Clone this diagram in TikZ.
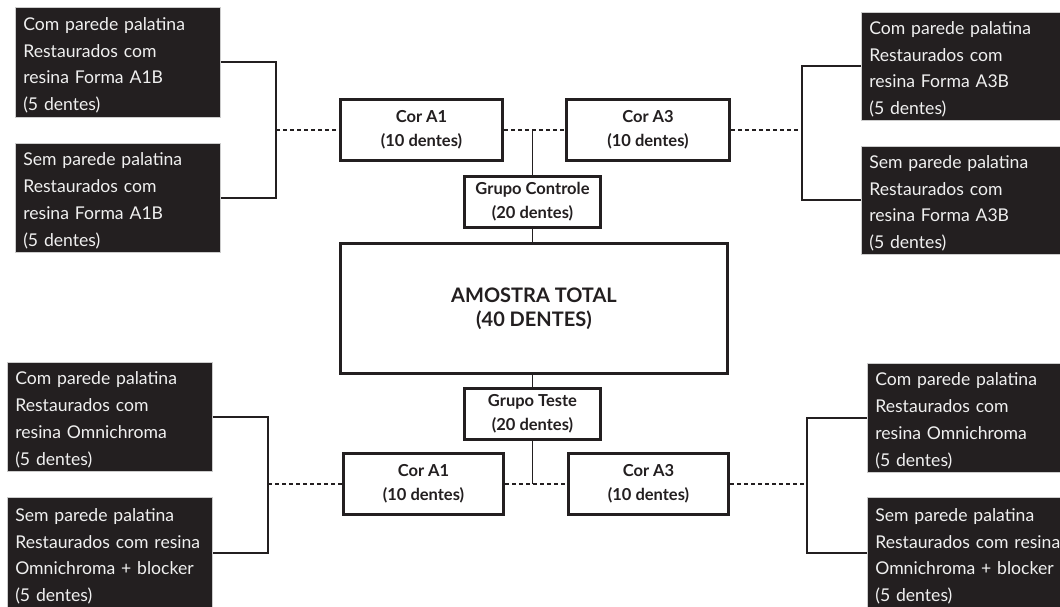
\documentclass[tikz,border=0pt]{standalone}
\usepackage{fontspec}
\setmainfont{Lato}
\definecolor{dk}{HTML}{231F20}
\newcommand{\lowtxt}{\par\vspace{-6pt}}
\begin{document}
\begin{tikzpicture}[x=1pt,y=-1pt,
  dark/.style={fill=dk, text=white!94!black, draw=gray!40, line width=0.6pt, anchor=north west,
    align=left, text width=189pt, inner xsep=8pt, inner ysep=0pt,
    font=\fontsize{17.6}{26.7}\selectfont},
  cbox/.style={draw=dk, line width=3pt, align=center, inner sep=0pt,
    font=\bfseries\fontsize{16.5}{24}\selectfont, text=dk},
  link/.style={draw=dk, line width=2pt},
  vlink/.style={draw=dk, line width=1.5pt},
  dots/.style={draw=dk, line width=2pt, dash pattern=on 4pt off 3pt}]
\clip (0,0) rectangle (1060,606);
\fill[white] (0,0) rectangle (1060,606);
% dark boxes
\node[dark, minimum height=110pt] (tl1) at (15,7) {Com parede palatina\\Restaurados com\\resina Forma A1B\\(5 dentes)\lowtxt};
\node[dark, minimum height=109pt] (tl2) at (15,143) {Sem parede palatina\\Restaurados com\\resina Forma A1B\\(5 dentes)\lowtxt};
\node[dark, minimum height=108pt] (tr1) at (861,12) {Com parede palatina\\Restaurados com\\resina Forma A3B\\(5 dentes)\lowtxt};
\node[dark, minimum height=108pt] (tr2) at (861,146) {Sem parede palatina\\Restaurados com\\resina Forma A3B\\(5 dentes)\lowtxt};
\node[dark, minimum height=109pt] (bl1) at (7,362) {Com parede palatina\\Restaurados com\\resina Omnichroma\\(5 dentes)\lowtxt};
\node[dark, minimum height=112pt] (bl2) at (7,497) {Sem parede palatina\\\mbox{Restaurados com resina}\\Omnichroma + blocker\\(5 dentes)\lowtxt};
\node[dark, minimum height=109pt] (br1) at (867,363) {Com parede palatina\\Restaurados com\\resina Omnichroma\\(5 dentes)\lowtxt};
\node[dark, minimum height=112pt] (br2) at (867,497) {Sem parede palatina\\\mbox{Restaurados com resina}\\Omnichroma + blocker\\(5 dentes)\lowtxt};
% centre boxes
\node[cbox, minimum width=162pt, minimum height=61pt] (a1) at (421.5,130) {Cor A1\\(10 dentes)};
\node[cbox, minimum width=163pt, minimum height=61pt] (a3) at (648,130) {Cor A3\\(10 dentes)};
\node[cbox, minimum width=136pt, minimum height=51pt] (gc) at (532.5,202) {Grupo Controle\\(20 dentes)};
\node[cbox, minimum width=387pt, minimum height=130pt, font=\bfseries\fontsize{20}{24}\selectfont] (tot) at (534,308.5) {AMOSTRA TOTAL\\(40 DENTES)};
\node[cbox, minimum width=136pt, minimum height=51pt] (gt) at (532.5,414) {Grupo Teste\\(20 dentes)};
\node[cbox, minimum width=160pt, minimum height=61pt] (b1) at (423.5,484) {Cor A1\\(10 dentes)};
\node[cbox, minimum width=160pt, minimum height=61pt] (b3) at (648.5,484) {Cor A3\\(10 dentes)};
% bracket joints
\coordinate (jTL) at (276,130);
\coordinate (jTR) at (802,130);
\coordinate (jBL) at (268,484);
\coordinate (jBR) at (807,484);
% connectors
\draw[link] (tl1.east) -| (jTL) |- (tl2.east);
\draw[link] (tr1.west) -| (jTR) |- (tr2.west);
\draw[link] (bl1.east) -| (jBL) |- (bl2.east);
\draw[link] (br1.west) -| (jBR) |- (br2.west);
\draw[dots] (jTL) -- (a1.west);
\draw[dots] (a1.east) -- (a3.west);
\draw[dots] (a3.east) -- (jTR);
\draw[dots] (jBL) -- (b1.west);
\draw[dots] (b1.east) -- (b3.west);
\draw[dots] (b3.east) -- (jBR);
\draw[vlink] (gc.north) -- (gc.north |- a1.east);
\draw[vlink] (gc.south) -- (gc.south |- tot.north);
\draw[vlink] (gt.north) -- (gt.north |- tot.south);
\draw[vlink] (gt.south) -- (gt.south |- b1.east);
\end{tikzpicture}
\end{document}
